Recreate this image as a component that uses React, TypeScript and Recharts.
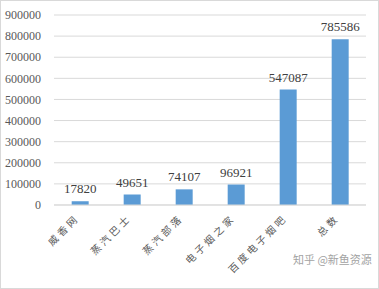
import React from "react";
import { BarChart, Bar, XAxis, YAxis, CartesianGrid, LabelList } from "recharts";

const categories = ["威香网", "蒸汽巴士", "蒸汽部落", "电子烟之家", "百度电子烟吧", "总数"];
const values = [17820, 49651, 74107, 96921, 547087, 785586];
const yTicks = [0, 100000, 200000, 300000, 400000, 500000, 600000, 700000, 800000, 900000];

const data = categories.map((name, i) => ({ name, value: values[i] }));

const CatTick = (props: any) => {
  const { x, y, payload } = props;
  return (
    <g transform={`translate(${x - 3},${y + 3})`}>
      <text
        x={0}
        y={0}
        textAnchor="end"
        transform="rotate(-45)"
        fontSize={10}
        letterSpacing={3}
        fill="#595959"
        fontFamily="'Noto Sans CJK SC', sans-serif"
        dy={4}
      >
        {payload.value}
      </text>
    </g>
  );
};

export default function App() {
  return (
    <div
      style={{
        position: "absolute",
        left: 0,
        top: 0,
        width: 379,
        height: 289,
        background: "#fff",
        boxSizing: "border-box",
        border: "1px solid #d9d9d9",
      }}
    >
      <BarChart
        width={377}
        height={287}
        data={data}
        margin={{ top: 14, right: 12, bottom: 0, left: 0 }}
        barCategoryGap="34%"
      >
        <CartesianGrid vertical={false} stroke="#d9d9d9" />
        <XAxis
          dataKey="name"
          axisLine={{ stroke: "#d9d9d9" }}
          tickLine={false}
          interval={0}
          height={83}
          tick={<CatTick />}
        />
        <YAxis
          domain={[0, 900000]}
          ticks={yTicks}
          axisLine={false}
          tickLine={false}
          width={53}
          tickMargin={7}
          interval={0}
          tick={{ fontSize: 12, fill: "#595959", fontFamily: "'Liberation Serif', serif" }}
        />
        <Bar dataKey="value" fill="#5b9bd5" isAnimationActive={false}>
          <LabelList
            dataKey="value"
            position="top"
            offset={8}
            style={{ fontSize: 13, fill: "#404040", fontFamily: "'Liberation Serif', serif" }}
          />
        </Bar>
      </BarChart>
      <div
        style={{
          position: "absolute",
          left: 292,
          top: 250,
          fontSize: 11,
          whiteSpace: "nowrap",
          color: "#8c8c8c",
          fontFamily: "'Noto Sans CJK SC', sans-serif",
          opacity: 0.8,
        }}
      >
        知乎 @新鱼资源
      </div>
    </div>
  );
}
